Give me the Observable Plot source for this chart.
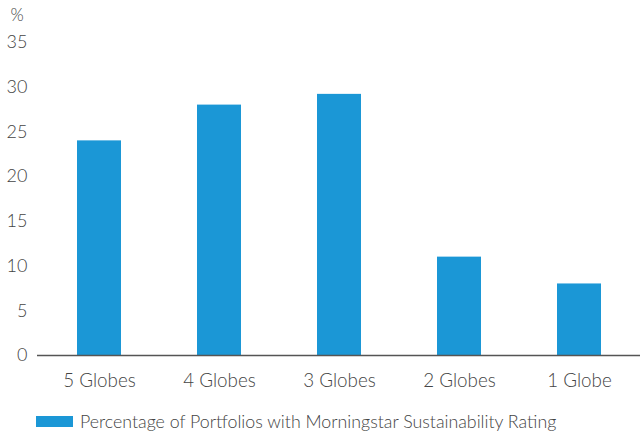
<!DOCTYPE html>
<html>
<head>
<meta charset="utf-8">
<script src="https://cdn.jsdelivr.net/npm/d3@7"></script>
<script src="https://cdn.jsdelivr.net/npm/@observablehq/plot@0.6"></script>
<style>
  body { margin: 0; background: #fff; font-family: Lato, sans-serif; overflow: hidden; }
  #legend { display: flex; align-items: center; height: 22px; margin-top: 10px; padding-left: 36px; color: #444; font-size: 17.8px; font-weight: 300; white-space: nowrap; }
  #legend .sw { width: 37px; height: 11px; background: #1B97D6; margin-right: 7px; flex: none; }
</style>
</head>
<body>
<div id="chart"></div>
<div id="legend"><span class="sw"></span><span id="legendText"></span></div>
<script>
const categories = ["5 Globes", "4 Globes", "3 Globes", "2 Globes", "1 Globe"];
const values = [24, 28, 29.2, 11, 8];
const yTicks = [0, 5, 10, 15, 20, 25, 30, 35];
const seriesName = "Percentage of Portfolios with Morningstar Sustainability Rating";
const barColor = "#1B97D6";

const data = categories.map((c, i) => ({category: c, value: values[i]}));

const plot = Plot.plot({
  width: 640,
  height: 400,
  marginLeft: 37,
  marginRight: 0,
  marginTop: 42,
  marginBottom: 45,
  style: {fontFamily: "Lato, sans-serif", fontSize: "17px", color: "#444", fontWeight: 300},
  x: {domain: categories, paddingInner: 0.635, paddingOuter: 0.3175, label: null},
  y: {domain: [0, 35], label: null},
  marks: [
    Plot.barY(data, {x: "category", y: "value", fill: barColor}),
    Plot.axisY({ticks: yTicks, tickSize: 0, tickPadding: 10, label: null, fontSize: 18}),
    Plot.axisX({tickSize: 0, tickPadding: 18, label: null, fontSize: 18.8}),
    Plot.text(["%"], {frameAnchor: "top-left", dx: -27, dy: -34, textAnchor: "start", fontSize: 17, fill: "#444"}),
    Plot.ruleY([0], {stroke: "#555", strokeWidth: 1.5})
  ]
});
document.getElementById("chart").appendChild(plot);
document.getElementById("legendText").textContent = seriesName;
</script>
</body>
</html>
